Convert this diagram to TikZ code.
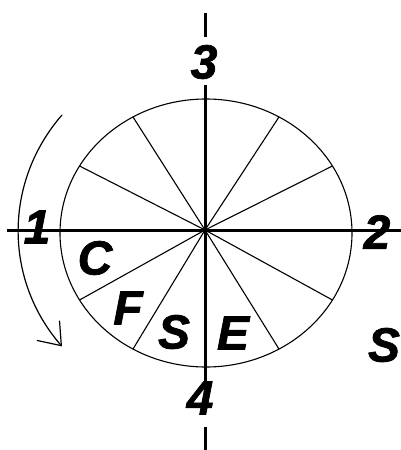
\documentclass[tikz,border=0pt]{standalone}
\usepackage{fontspec}
\setmainfont{Liberation Sans}
\newfontfamily\lblfont[BoldItalicFeatures={FakeBold=1.5}]{Liberation Sans}
\usetikzlibrary{arrows.meta, calc}

\begin{document}
\begin{tikzpicture}[
    x=1pt, y=-1pt,
    axis/.style={line width=3pt, black},
    rim/.style={line width=1.1pt},
    spoke/.style={line width=1.1pt},
    turn/.style={line width=1.2pt, -{Straight Barb[length=20pt, width=30pt]}},
    lbl/.style={font=\lblfont\fontsize{48}{48}\selectfont\bfseries\itshape, inner sep=0pt},
]
    \useasboundingbox (0,0) rectangle (401,450);

    % Centre of the disc
    \coordinate (O) at (205,230);
    \coordinate (M) at (206,233);

    % Disc and spokes
    \draw[rim] (M) ellipse[x radius=146, y radius=134];
    \foreach \a in {30,60,120,150,210,240,300,330}
        \draw[spoke] (O) -- ($(M)+({146*cos(\a)},{-134*sin(\a)})$);

    % Axes
    \coordinate (Lend) at (7,230);
    \coordinate (Rend) at (401,230);
    \draw[axis] (Lend) -- (Rend);
    \draw[axis] (205,13) -- (205,37);
    \draw[axis] (205,85) -- (205,388);
    \draw[axis] (205,427) -- (205,450);

    % Axis numbers
    \node[lbl] (one) at (37,227) {1};
    \node[lbl] (two) at (377,232) {2};
    \node[lbl] (three) at (204,62) {3};
    \node[lbl] (four) at (200,398) {4};

    % Sector letters
    \node[lbl] (secC) at (95,258) {C};
    \node[lbl] (secF) at (128,308) {F};
    \node[lbl] (secS) at (174,332) {S};
    \node[lbl] (secE) at (233,333) {E};
    \node[lbl] (side) at (384,345) {S};

    % Sense of rotation
    \coordinate (rotA) at (62,115);
    \draw[turn] (rotA) arc[start angle=-140, end angle=-220, x radius=187, y radius=180];

\end{tikzpicture}
\end{document}
